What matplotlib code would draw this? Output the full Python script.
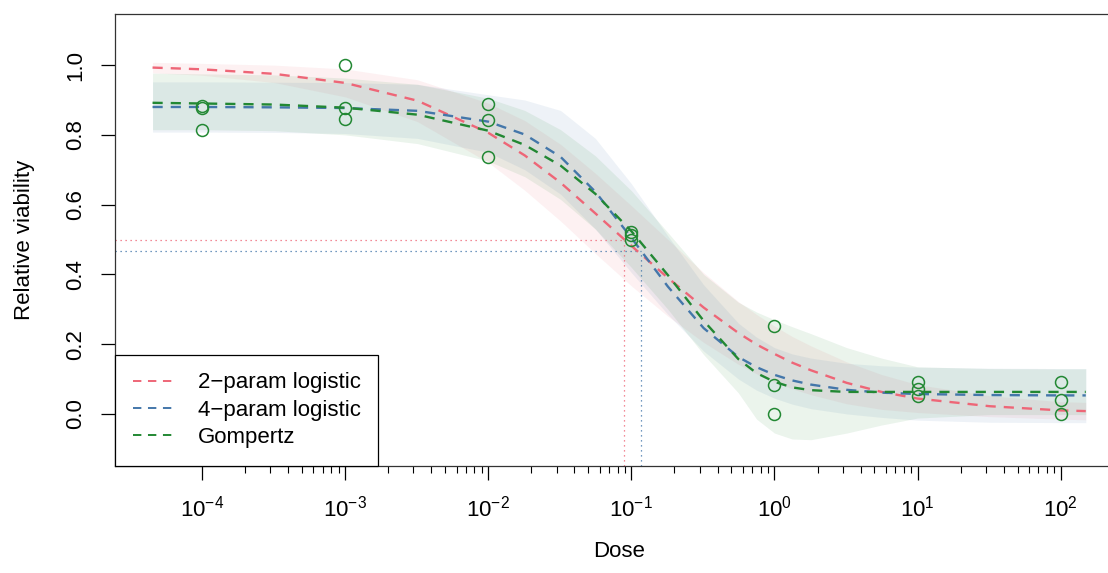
import numpy as np
import matplotlib
matplotlib.use("Agg")
import matplotlib.pyplot as plt
from matplotlib.ticker import FixedLocator, LogFormatterSciNotation, NullFormatter

plt.rcParams['font.family'] = ['Liberation Sans', 'DejaVu Sans']

# observed data (dose, relative viability)
obs_dose = [1e-4, 1e-4, 1e-4, 1e-3, 1e-3, 1e-3, 1e-2, 1e-2, 1e-2,
            0.1, 0.1, 0.1, 1, 1, 1, 10, 10, 10, 100, 100, 100]
obs_viab = [0.883, 0.877, 0.814, 1.000, 0.876, 0.846, 0.890, 0.844, 0.736,
            0.522, 0.512, 0.500, 0.253, 0.084, 0.000, 0.092, 0.071, 0.050,
            0.092, 0.040, 0.000]

# fitted curves
curve_dose = [4.5e-5, 1e-4, 3.2e-4, 1e-3, 3.2e-3, 1e-2, 1.8e-2, 3.2e-2, 5.6e-2,
              0.1, 0.18, 0.32, 0.56, 0.75, 1, 1.33, 1.8, 3.2, 5.6, 10, 32, 100, 150]
logis2 = [0.993, 0.988, 0.975, 0.949, 0.898, 0.806, 0.741, 0.663, 0.575, 0.482,
          0.390, 0.305, 0.232, 0.199, 0.172, 0.147, 0.125, 0.089, 0.063, 0.044,
          0.022, 0.010, 0.008]
logis2_lo = [0.978, 0.971, 0.950, 0.909, 0.838, 0.721, 0.641, 0.553, 0.460, 0.367,
             0.280, 0.205, 0.142, 0.115, 0.092, 0.072, 0.055, 0.029, 0.013, 0.004,
             -0.008, -0.015, -0.017]
logis2_hi = [1.008, 1.005, 1.000, 0.989, 0.958, 0.891, 0.841, 0.773, 0.690, 0.597,
             0.500, 0.405, 0.322, 0.285, 0.252, 0.222, 0.195, 0.149, 0.113, 0.084,
             0.052, 0.035, 0.033]

logis4 = [0.880, 0.880, 0.879, 0.877, 0.869, 0.838, 0.801, 0.737, 0.637, 0.505,
          0.365, 0.246, 0.163, 0.134, 0.112, 0.096, 0.084, 0.069, 0.061, 0.057,
          0.054, 0.053, 0.053]
logis4_lo = [0.808, 0.808, 0.807, 0.804, 0.790, 0.750, 0.700, 0.630, 0.530, 0.405,
             0.285, 0.180, 0.100, 0.068, 0.045, 0.028, 0.015, 0.000, -0.010, -0.018,
             -0.024, -0.025, -0.025]
logis4_hi = [0.952, 0.952, 0.951, 0.950, 0.945, 0.915, 0.900, 0.870, 0.790, 0.660,
             0.510, 0.370, 0.260, 0.220, 0.190, 0.172, 0.160, 0.145, 0.138, 0.134,
             0.131, 0.130, 0.130]

gompertz = [0.892, 0.890, 0.887, 0.878, 0.858, 0.812, 0.771, 0.712, 0.631, 0.524,
            0.398, 0.267, 0.157, 0.117, 0.092, 0.076, 0.068, 0.063, 0.063, 0.063,
            0.063, 0.063, 0.063]
gompertz_lo = [0.815, 0.815, 0.812, 0.800, 0.775, 0.725, 0.680, 0.615, 0.530, 0.420,
               0.300, 0.170, 0.060, -0.015, -0.055, -0.072, -0.074, -0.055, -0.032, -0.012,
               -0.002, -0.002, -0.002]
gompertz_hi = [0.977, 0.975, 0.972, 0.963, 0.945, 0.905, 0.870, 0.815, 0.740, 0.640,
               0.520, 0.400, 0.320, 0.292, 0.270, 0.250, 0.230, 0.190, 0.160, 0.135,
               0.130, 0.129, 0.129]

# IC50 markers (2-param, 4-param)
ic50_dose = [0.0893, 0.117]
ic50_viab = [0.5, 0.4665]

labels = ['2\u2212param logistic', '4\u2212param logistic', 'Gompertz']
colors = ['#EE6677', '#4477AA', '#228833']

fig = plt.figure(figsize=(11.08, 5.73), dpi=100)
ax = fig.add_axes([0.1042, 0.1876, 0.9093, 0.7888])
ax.set_xscale('log')
ax.set_xlim(10 ** -4.606, 10 ** 2.436)
ax.set_ylim(-0.148, 1.148)

series = [(logis2, logis2_lo, logis2_hi), (logis4, logis4_lo, logis4_hi),
          (gompertz, gompertz_lo, gompertz_hi)]

# confidence ribbons
for (mid, lo, hi), col in zip(series, colors):
    ax.fill_between(curve_dose, lo, hi, color=col, alpha=0.09, linewidth=0, zorder=1)

# IC50 guide lines
xmin = ax.get_xlim()[0]
ymin = ax.get_ylim()[0]
for d, v, col in zip(ic50_dose, ic50_viab, colors):
    ax.plot([xmin, d], [v, v], color=col, linestyle=(0, (1, 3)), linewidth=0.9, zorder=2)
    ax.plot([d, d], [ymin, v], color=col, linestyle=(0, (1, 3)), linewidth=0.9, zorder=2)

# fitted curves
for (mid, lo, hi), col, lab in zip(series, colors, labels):
    ax.plot(curve_dose, mid, color=col, linewidth=1.7, dashes=(4.3, 3.4), label=lab, zorder=3)

ax.plot(obs_dose, obs_viab, linestyle='none', marker='o', markersize=8.6,
        markerfacecolor='none', markeredgecolor='#228833', markeredgewidth=1.1, zorder=4)

# axes styling (R base look)
major = [10.0 ** k for k in range(-4, 3)]
minor = [m * 10.0 ** k for k in range(-4, 2) for m in range(2, 10)]
ax.xaxis.set_major_locator(FixedLocator(major))
ax.xaxis.set_major_formatter(LogFormatterSciNotation())
ax.xaxis.set_minor_locator(FixedLocator(minor))
ax.xaxis.set_minor_formatter(NullFormatter())
ax.set_yticks([0.0, 0.2, 0.4, 0.6, 0.8, 1.0])
ax.set_yticklabels(['0.0', '0.2', '0.4', '0.6', '0.8', '1.0'], rotation=90, va='center')

fs = 16
ax.tick_params(axis='both', which='major', direction='out', length=10, width=0.9,
               labelsize=fs, color='black')
ax.tick_params(axis='x', which='major', pad=12)
ax.tick_params(axis='y', which='major', pad=11)
ax.tick_params(axis='x', which='minor', direction='out', length=5, width=0.8)
for s in ax.spines.values():
    s.set_linewidth(0.9)
    s.set_color('#333333')

ax.set_xlabel('Dose', fontsize=fs, labelpad=14)
ax.set_ylabel('Relative viability', fontsize=fs, labelpad=22)

leg = ax.legend(loc='lower left', bbox_to_anchor=(0, 0), borderaxespad=0,
                fancybox=False, edgecolor='black', framealpha=1, fontsize=fs,
                handlelength=1.95, handletextpad=0.98, labelspacing=0.29,
                borderpad=0.78)
leg.get_frame().set_linewidth(0.9)
for h in leg.get_lines():
    h.set_linewidth(1.4)

fig.savefig('out.png', dpi=100)
